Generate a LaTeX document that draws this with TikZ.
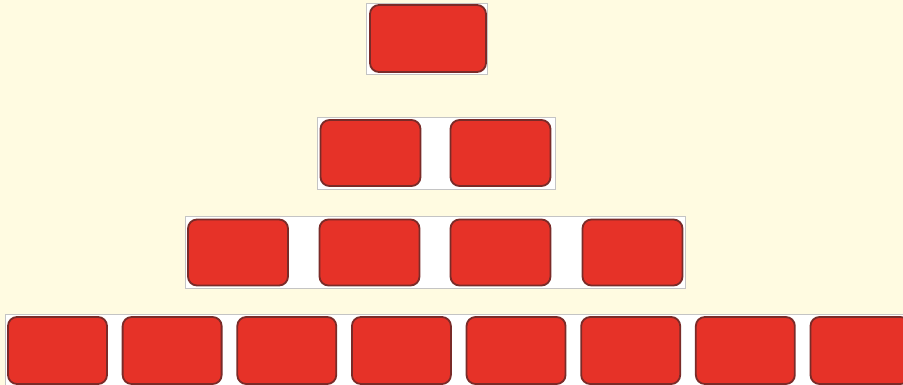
\documentclass[tikz,border=0pt]{standalone}
\definecolor{bgcream}{HTML}{FFFBE1}
\definecolor{boxred}{HTML}{E63228}
\definecolor{boxedge}{HTML}{7A2B28}
\definecolor{backedge}{HTML}{C4C4C4}
\tikzset{
  redbox/.style={draw=boxedge, line width=1.8pt, fill=boxred, rounded corners=9pt, minimum width=99pt, minimum height=66pt, inner sep=0pt},
  backing/.style={draw=backedge, line width=0.8pt, fill=white, inner sep=0pt}
}
\begin{document}
\begin{tikzpicture}[x=1pt,y=-1pt]
\fill[bgcream] (0,0) rectangle (903,385);
\useasboundingbox (0,0) rectangle (903,385);
% backings
\node[backing, minimum width=121pt, minimum height=71pt] (b1) at (426.5,38.5) {};
\node[backing, minimum width=238pt, minimum height=72pt] (b2) at (436,153) {};
\node[backing, minimum width=500pt, minimum height=72pt] (b3) at (435,252) {};
\node[backing, minimum width=900pt, minimum height=73pt] (b4) at (455,350.5) {};
% row 1
\node[redbox, minimum width=116pt, minimum height=67pt] (r11) at (428,38.5) {};
% row 2
\node[redbox, minimum width=100pt] (r21) at (370.5,153) {};
\node[redbox, minimum width=100pt] (r22) at (500.5,153) {};
% row 3
\node[redbox, minimum width=100pt] (r31) at (238,252.5) {};
\node[redbox, minimum width=100pt] (r32) at (369.5,252.5) {};
\node[redbox, minimum width=100pt] (r33) at (500.5,252.5) {};
\node[redbox, minimum width=100pt] (r34) at (632.5,252.5) {};
% row 4
\foreach \i in {0,...,7}{
  \node[redbox, minimum height=67pt] (r4\i) at ({57.5+114.64*\i},350.5) {};
}
\end{tikzpicture}
\end{document}
